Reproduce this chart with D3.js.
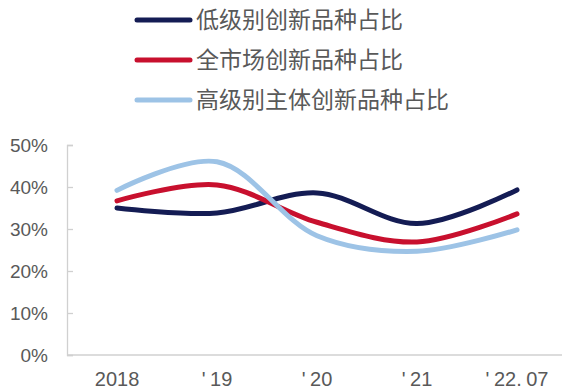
<!DOCTYPE html>
<html>
<head>
<meta charset="utf-8">
<script src="https://cdn.jsdelivr.net/npm/d3@7"></script>
<style>
  html, body { margin: 0; padding: 0; background: #fff; }
  svg { display: block; }
</style>
</head>
<body>
<svg id="chart" width="562" height="392"></svg>
<script>
// Periods on the x axis
const categories = ["2018", "'19", "'20", "'21", "'22.07"];

// Share of innovative varieties (%)
const lowGrade = [35.0, 33.8, 38.6, 31.3, 39.3];
const wholeMarket = [36.7, 40.5, 31.6, 26.9, 33.6];
const highGrade = [39.2, 46.0, 28.4, 24.7, 29.8];

const seriesNames = ["低级别创新品种占比", "全市场创新品种占比", "高级别主体创新品种占比"];
const yTicks = [0, 10, 20, 30, 40, 50];

const series = [
  { name: seriesNames[0], values: lowGrade, color: "#141c54" },
  { name: seriesNames[1], values: wholeMarket, color: "#c8102e" },
  { name: seriesNames[2], values: highGrade, color: "#9dc3e6" }
];

const svg = d3.select("#chart");
const textColor = "#595959";
const axisColor = "#d0d0d0";

const x = d3.scalePoint().domain(categories).range([117, 517]);
const y = d3.scaleLinear().domain([0, 50]).range([355, 145]);

// Y axis
const yAxis = svg.append("g").attr("transform", "translate(67,0)")
  .call(d3.axisRight(y).tickValues(yTicks).tickSize(6).tickFormat(""));
yAxis.select(".domain").attr("stroke", axisColor).attr("stroke-width", 1.3);
yAxis.selectAll(".tick line").attr("stroke", axisColor).attr("stroke-width", 1.3);

svg.append("g").selectAll("text").data(yTicks).join("text")
  .attr("x", 48).attr("y", d => y(d))
  .attr("dy", "0.36em")
  .attr("text-anchor", "end")
  .attr("fill", textColor)
  .attr("font-family", "Liberation Sans, Arial, sans-serif")
  .attr("font-size", 19)
  .text(d => d + "%");

// X axis baseline
svg.append("line")
  .attr("x1", 67).attr("x2", 562)
  .attr("y1", y(0)).attr("y2", y(0))
  .attr("stroke", axisColor).attr("stroke-width", 1.3);

// Category labels: punctuation is followed by a small extra gap
const xLabels = svg.append("g").selectAll("text").data(categories).join("text")
  .attr("x", d => x(d)).attr("y", 386)
  .attr("text-anchor", "middle")
  .attr("fill", textColor)
  .attr("font-family", "Liberation Sans, Arial, sans-serif")
  .attr("font-size", 20);
xLabels.selectAll("tspan")
  .data(d => d.split("").map((c, i, arr) => ({ c, gap: i > 0 && (arr[i - 1] === "'" || arr[i - 1] === ".") })))
  .join("tspan")
  .attr("dx", d => d.gap ? 4.5 : 0)
  .text(d => d.c);

// Smoothed lines
const line = d3.line()
  .x((d, i) => x(categories[i]))
  .y(d => y(d))
  .curve(d3.curveCatmullRom.alpha(0.5));

svg.append("g").selectAll("path").data(series).join("path")
  .attr("d", s => line(s.values))
  .attr("fill", "none")
  .attr("stroke", s => s.color)
  .attr("stroke-width", 5)
  .attr("stroke-linecap", "round");

// Legend
const legend = svg.append("g").selectAll("g").data(series).join("g")
  .attr("transform", (d, i) => `translate(0,${20 + i * 40})`);
legend.append("line")
  .attr("x1", 137).attr("x2", 190)
  .attr("stroke", d => d.color)
  .attr("stroke-width", 5)
  .attr("stroke-linecap", "round");
legend.append("text")
  .attr("x", 196).attr("dy", "0.36em")
  .attr("fill", textColor)
  .attr("font-family", "Noto Sans CJK SC, sans-serif")
  .attr("font-size", 23)
  .text(d => d.name);
</script>
</body>
</html>
